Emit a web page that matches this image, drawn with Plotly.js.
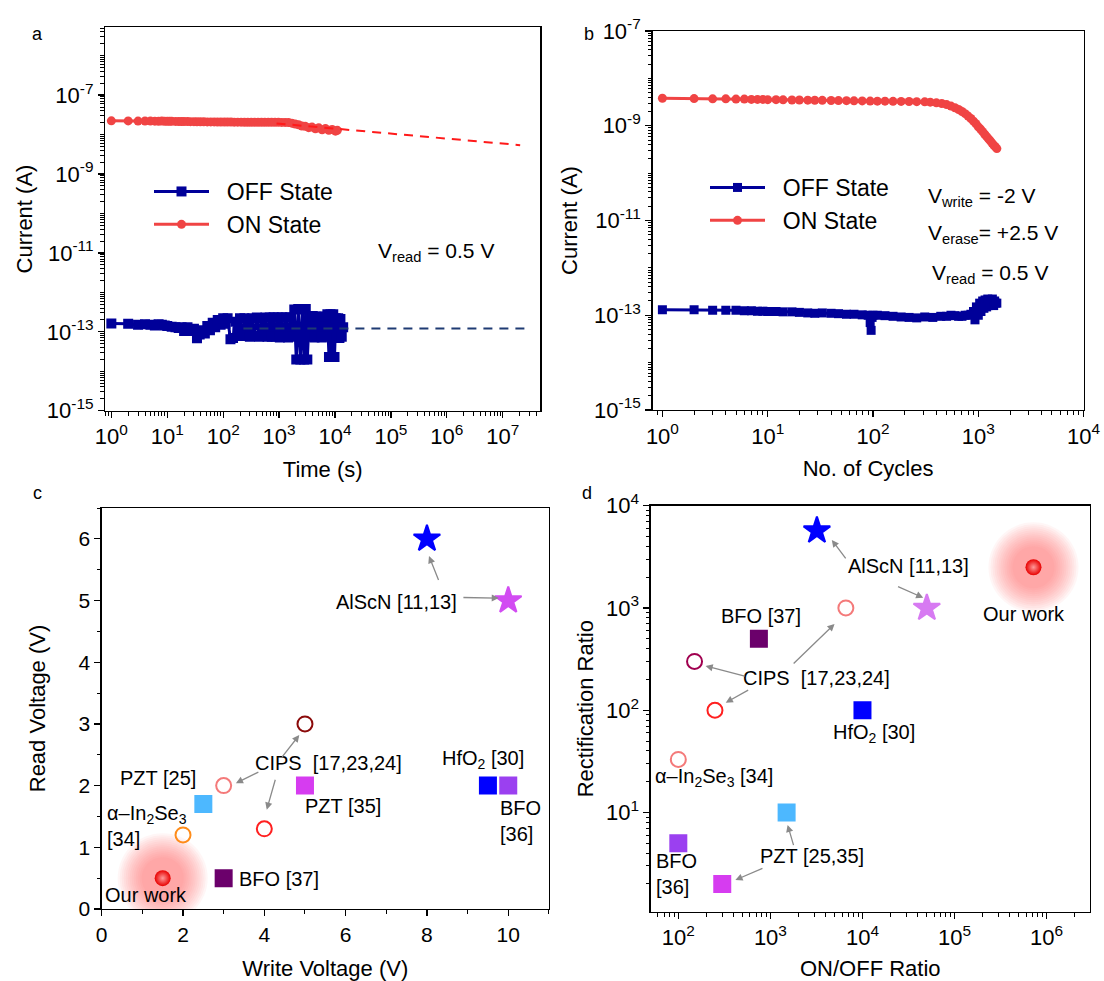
<!DOCTYPE html>
<html><head><meta charset="utf-8">
<script src="https://cdn.plot.ly/plotly-3.0.1.min.js"></script>
<style>html,body{margin:0;padding:0;background:#fff}#chart{width:1104px;height:981px}</style>
</head><body><div id="chart"></div>
<script>
// ---------------- Panel a : retention ----------------
const offTimeA = [1,2,3,4,5,6,7,8,9,10,12,14,16,18,20,23,26,30,34,38,42,47,52,58,65,72,80,90,100,110,120,135,150,165,180,200,220,240,260,280,300,330,360,400,440,480,520,570,620,680,740,800,870,950,1030,1120,1220,1330,1450,1580,1720,1870,2030,2200,2400,2600,2800,3000,3200,3450,3700,4000,4300,4600,5000,5400,5800,6300,6800,7300,7800,8300,8800,9300,9800,10300,10800,11400,12000,12500,13200,14000];
const offCurA = [1.63e-13,1.6e-13,1.5e-13,1.55e-13,1.5e-13,1.45e-13,1.55e-13,1.5e-13,1.45e-13,1.4e-13,1.35e-13,1.3e-13,1.25e-13,1.3e-13,1.05e-13,1.3e-13,1.05e-13,1.2e-13,0.69e-13,0.85e-13,1.1e-13,0.9e-13,1.4e-13,1.1e-13,1.7e-13,1.3e-13,2.0e-13,1.5e-13,2.2e-13,1.6e-13,2.2e-13,0.65e-13,0.7e-13,1.8e-13,1.0e-13,2.2e-13,0.78e-13,2.2e-13,0.8e-13,2.1e-13,0.75e-13,2.2e-13,0.8e-13,2.3e-13,0.75e-13,2.2e-13,0.8e-13,2.3e-13,0.75e-13,2.3e-13,0.75e-13,2.35e-13,0.75e-13,2.3e-13,0.72e-13,2.35e-13,0.75e-13,2.3e-13,0.72e-13,2.35e-13,0.75e-13,3.7e-13,0.2e-13,3.8e-13,0.2e-13,3.7e-13,0.2e-13,3.8e-13,0.2e-13,2.4e-13,0.75e-13,2.5e-13,0.72e-13,2.4e-13,0.75e-13,2.45e-13,0.72e-13,2.4e-13,0.75e-13,2.8e-13,0.23e-13,2.8e-13,0.23e-13,2.8e-13,0.23e-13,2.2e-13,0.7e-13,2.2e-13,0.7e-13,2.1e-13,0.75e-13,1.3e-13];
const onTimeA = [1,2,3,4,5,6,7,8,9,10,11,12,14,16,18,20,23,26,30,34,39,45,52,60,69,79,91,105,120,138,158,182,209,240,276,317,365,420,483,555,638,734,844,970,1115,1280,1470,1690,1940,2230,2560,2940,3380,3880,4460,5120,5880,6750,7750,8900,10200,11000];
const onCurA = [2.23e-8,2.22e-8,2.2e-8,2.21e-8,2.2e-8,2.19e-8,2.18e-8,2.2e-8,2.18e-8,2.18e-8,2.17e-8,2.17e-8,2.16e-8,2.15e-8,2.15e-8,2.14e-8,2.14e-8,2.13e-8,2.13e-8,2.12e-8,2.12e-8,2.11e-8,2.1e-8,2.1e-8,2.1e-8,2.09e-8,2.09e-8,2.08e-8,2.08e-8,2.08e-8,2.07e-8,2.07e-8,2.07e-8,2.06e-8,2.06e-8,2.06e-8,2.06e-8,2.05e-8,2.05e-8,2.05e-8,2.05e-8,2.05e-8,2.05e-8,2.05e-8,2.04e-8,2.04e-8,2.02e-8,1.95e-8,1.85e-8,1.78e-8,1.65e-8,1.62e-8,1.5e-8,1.55e-8,1.4e-8,1.48e-8,1.33e-8,1.42e-8,1.28e-8,1.35e-8,1.22e-8,1.28e-8];
const onFitTimeA = [900, 2.05e7];
const onFitCurA = [1.92e-8, 5.4e-9];
const offFitTimeA = [230, 2.9e7];
const offFitCurA = [1.22e-13, 1.22e-13];

// ---------------- Panel b : endurance ----------------
const onCycB = [1,2,3,4,5,6,7,8,9,10,12,14,17,20,24,28,33,40,47,56,66,79,94,110,130,155,185,220,260,310,350,400,450,500,550,600,650,700,750,800,850,900,950,1000,1050,1100,1150,1200,1250,1300,1350,1400,1450,1500];
const onCurB = [3.8e-9,3.75e-9,3.7e-9,3.7e-9,3.65e-9,3.65e-9,3.6e-9,3.6e-9,3.6e-9,3.55e-9,3.55e-9,3.52e-9,3.5e-9,3.5e-9,3.47e-9,3.45e-9,3.44e-9,3.42e-9,3.4e-9,3.38e-9,3.36e-9,3.34e-9,3.32e-9,3.3e-9,3.3e-9,3.28e-9,3.26e-9,3.25e-9,3.22e-9,3.2e-9,3.15e-9,3.05e-9,2.95e-9,2.8e-9,2.6e-9,2.4e-9,2.2e-9,2.0e-9,1.8e-9,1.6e-9,1.42e-9,1.25e-9,1.1e-9,0.95e-9,0.85e-9,0.75e-9,0.66e-9,0.59e-9,0.53e-9,0.48e-9,0.43e-9,0.39e-9,0.36e-9,0.33e-9];
const offCycB = [1,2,3,4,5,6,7,8,9,10,12,14,17,20,24,28,33,40,47,56,66,79,90,94,96,98,100,110,130,155,185,220,260,310,370,440,500,550,600,650,700,750,800,850,900,930,960,1000,1030,1060,1100,1130,1160,1200,1230,1260,1300,1330,1360,1400,1430,1460,1500];
const offCurB = [1.3e-13,1.3e-13,1.28e-13,1.28e-13,1.28e-13,1.25e-13,1.25e-13,1.22e-13,1.22e-13,1.2e-13,1.2e-13,1.18e-13,1.18e-13,1.15e-13,1.12e-13,1.1e-13,1.12e-13,1.1e-13,1.08e-13,1.05e-13,1.05e-13,1.02e-13,1.0e-13,0.7e-13,0.48e-13,0.9e-13,1.0e-13,1.0e-13,0.98e-13,0.95e-13,0.92e-13,0.9e-13,0.88e-13,0.92e-13,0.9e-13,0.95e-13,0.95e-13,1.0e-13,0.98e-13,0.95e-13,0.95e-13,1.0e-13,1.0e-13,1.05e-13,1.2e-13,0.8e-13,1.5e-13,1.0e-13,1.8e-13,1.2e-13,2.0e-13,1.4e-13,2.1e-13,1.5e-13,2.2e-13,1.6e-13,2.1e-13,1.7e-13,2.2e-13,1.6e-13,2.0e-13,1.8e-13,1.8e-13];

// ---------------- Panel c : write vs read voltage ----------------
const cLabels  = ['AlScN [11]','AlScN [13]','CIPS [17]','CIPS [23]','CIPS [24]','α-In2Se3 [34]','PZT [25]','PZT [35]','HfO2 [30]','BFO [36]','BFO [37]'];
const cWriteV  = [8, 10, 5, 3, 4, 2, 2.5, 5, 9.5, 10, 3];
const cReadV   = [6, 5, 3, 2, 1.3, 1.2, 1.7, 2, 2, 2, 0.5];
const ourWriteV = [1.5];
const ourReadV  = [0.5];

// ---------------- Panel d : ON/OFF vs rectification ----------------
const dLabels  = ['AlScN [11]','AlScN [13]','CIPS [17]','CIPS [23]','CIPS [24]','α-In2Se3 [34]','PZT [25]','PZT [35]','HfO2 [30]','BFO [36]','BFO [37]'];
const dOnOff   = [3200, 50000, 150, 6600, 250, 100, 1500, 300, 10000, 100, 750];
const dRect    = [5700, 1000, 300, 1000, 100, 33, 10, 2, 100, 5, 500];
const ourOnOff = [7.2e5];
const ourRect  = [2500];

// ---------------- tick labels ----------------
const aXTickVals = [1,10,100,1e3,1e4,1e5,1e6,1e7];
const aXTickText = ['10<sup>0</sup>','10<sup>1</sup>','10<sup>2</sup>','10<sup>3</sup>','10<sup>4</sup>','10<sup>5</sup>','10<sup>6</sup>','10<sup>7</sup>'];
const abYTickVals = [1e-15,1e-13,1e-11,1e-9,1e-7];
const abYTickText = ['10<sup>-15</sup>','10<sup>-13</sup>','10<sup>-11</sup>','10<sup>-9</sup>','10<sup>-7</sup>'];
const bXTickVals = [1,10,100,1e3,1e4];
const bXTickText = ['10<sup>0</sup>','10<sup>1</sup>','10<sup>2</sup>','10<sup>3</sup>','10<sup>4</sup>'];
const cXTickVals = [0,2,4,6,8,10];
const cXTickText = ['0','2','4','6','8','10'];
const cYTickVals = [0,1,2,3,4,5,6];
const cYTickText = ['0','1','2','3','4','5','6'];
const dXTickVals = [100,1e3,1e4,1e5,1e6];
const dXTickText = ['10<sup>2</sup>','10<sup>3</sup>','10<sup>4</sup>','10<sup>5</sup>','10<sup>6</sup>'];
const dYTickVals = [10,100,1e3,1e4];
const dYTickText = ['10<sup>1</sup>','10<sup>2</sup>','10<sup>3</sup>','10<sup>4</sup>'];

// ---------------- helpers ----------------
const W = 1104, H = 981;
const px = v => v / W, py = v => 1 - v / H;
function logMinor(e0, e1) {
  const out = [];
  for (let e = e0; e <= e1; e++) for (let m = 2; m <= 9; m++) out.push(m * Math.pow(10, e));
  return out;
}
function oddDecadeMinor(e0, e1) { // minor ticks plus the unlabeled decades
  const out = logMinor(e0, e1);
  for (let e = e0; e <= e1; e++) if (Math.abs(e % 2) !== 1) out.push(Math.pow(10, e));
  return out;
}
function linMinor(a, b, s) { const out = []; for (let v = a; v <= b + 1e-9; v += s) out.push(+v.toFixed(6)); return out; }
const FONT = 'Liberation Sans, Arial, sans-serif';
function axis(o, fs) {
  return Object.assign({
    showline: true, linecolor: '#000', linewidth: 1.3, mirror: true,
    showgrid: false, zeroline: false, ticks: 'outside', ticklen: 6, tickwidth: 1.3, tickcolor: '#000',
    tickmode: 'array', tickfont: {family: FONT, size: fs || 22, color: '#000'}, automargin: false
  }, o);
}
const minorOf = vals => ({tickmode: 'array', tickvals: vals, ticks: 'outside', ticklen: 3.5, tickwidth: 1, tickcolor: '#000'});

const NAVY = '#000099', RED = '#f04444';
const traces = [
  // panel a
  {x: offTimeA, y: offCurA, xaxis: 'x', yaxis: 'y', name: '\u00a0\u00a0OFF State', mode: 'lines+markers', legend: 'legend',
   line: {color: NAVY, width: 3}, marker: {symbol: 'square', size: 10, color: NAVY}},
  {x: onTimeA, y: onCurA, xaxis: 'x', yaxis: 'y', name: '\u00a0\u00a0ON State', mode: 'lines+markers', legend: 'legend',
   line: {color: RED, width: 3}, marker: {symbol: 'circle', size: 9, color: RED}},
  {x: onFitTimeA, y: onFitCurA, xaxis: 'x', yaxis: 'y', mode: 'lines', showlegend: false,
   line: {color: '#ff1a1a', width: 2, dash: '9px,7px'}},
  {x: offFitTimeA, y: offFitCurA, xaxis: 'x', yaxis: 'y', mode: 'lines', showlegend: false,
   line: {color: '#1f3b73', width: 2, dash: '9px,7px'}},
  // panel b
  {x: offCycB, y: offCurB, xaxis: 'x2', yaxis: 'y2', name: '\u00a0\u00a0OFF State', mode: 'lines+markers', legend: 'legend2',
   line: {color: NAVY, width: 3}, marker: {symbol: 'square', size: 9, color: NAVY}},
  {x: onCycB, y: onCurB, xaxis: 'x2', yaxis: 'y2', name: '\u00a0\u00a0ON State', mode: 'lines+markers', legend: 'legend2',
   line: {color: RED, width: 3}, marker: {symbol: 'circle', size: 9, color: RED}},
];

// "Our work" glow: many stacked faint discs give a soft pink halo
const glowSizes = [];
for (let s = 90; s >= 42; s -= 4) glowSizes.push(s);
[['x3','y3',ourWriteV,ourReadV],['x4','y4',ourOnOff,ourRect]].forEach(([xa,ya,xs,ys]) => {
  glowSizes.forEach(s => traces.push({x: xs, y: ys, xaxis: xa, yaxis: ya, mode: 'markers', showlegend: false, hoverinfo: 'skip',
    marker: {size: s, opacity: 1, color: 'rgba(255,105,105,0.06)', line: {width: 0}}}));
});

// style per point (c and d share order of labels)
const cSym   = ['star','star','circle-open','circle-open','circle-open','circle-open','square','square','square','square','square'];
const cCol   = ['#0000ff','#d24cf2','#8b0a0a','#f47a7a','#ff2020','#ff8c1a','#4db8ff','#d63cf0','#0000ff','#9b40f0','#6b006b'];
const dCol   = ['#0000ff','#d77af2','#a0004f','#f47a7a','#ff2020','#f47a7a','#4db8ff','#d63cf0','#0000ff','#9b40f0','#6b006b'];
const cSize  = [20,20,15,15,15,15,16,16,16,16,16];
traces.push({x: cWriteV, y: cReadV, xaxis: 'x3', yaxis: 'y3', mode: 'markers', showlegend: false, name: 'literature',
  marker: {symbol: cSym, size: cSize, opacity: 1, color: cCol, line: {color: cCol, width: 2}}});
traces.push({x: dOnOff, y: dRect, xaxis: 'x4', yaxis: 'y4', mode: 'markers', showlegend: false, name: 'literature',
  marker: {symbol: cSym, size: cSize, opacity: 1, color: dCol, line: {color: dCol, width: 2}}});
[['x3','y3',ourWriteV,ourReadV],['x4','y4',ourOnOff,ourRect]].forEach(([xa,ya,xs,ys]) => {
  traces.push({x: xs, y: ys, xaxis: xa, yaxis: ya, mode: 'markers', showlegend: false, name: 'Our work',
    marker: {size: 16, opacity: 1, color: '#e80000', gradient: {type: 'radial', color: '#ff9a9a'}, line: {width: 0}}});
});

const ann = [];
const txt = (x, y, text, o) => ann.push(Object.assign({x, y, text, showarrow: false, font: {family: FONT, size: 20, color: '#000'}}, o));
// panel labels
const pl = {xref: 'paper', yref: 'paper', font: {family: FONT, size: 18, color: '#000'}};
txt(px(30), py(22), 'a', pl);
txt(px(589), py(22), 'b', pl);
txt(px(31), py(493), 'c', pl);
txt(px(587), py(493), 'd', pl);
// voltage notes
const vn = {xref: 'paper', yref: 'paper', xanchor: 'left', font: {family: FONT, size: 21, color: '#000'}};
txt(px(376), py(237), 'V<sub>read</sub> = 0.5 V', vn);
txt(px(926), py(182), 'V<sub>write</sub> = -2 V', vn);
txt(px(926), py(219), 'V<sub>erase</sub>= +2.5 V', vn);
txt(px(930), py(259), 'V<sub>read</sub> = 0.5 V', vn);

// panel c labels
const c = {xref: 'x3', yref: 'y3'};
txt(7.26, 4.98, 'AlScN [11,13]', c);
txt(5.59, 2.36, 'CIPS  [17,23,24]', c);
txt(1.38, 2.13, 'PZT [25]', c);
txt(5.94, 1.67, 'PZT [35]', c);
txt(9.38, 2.42, 'HfO<sub>2</sub> [30]', c);
txt(9.75, 1.42, 'BFO<br>[36]', Object.assign({xanchor: 'left', align: 'left'}, c));
txt(0.086, 1.34, 'α–In<sub>2</sub>Se<sub>3</sub><br>[34]', Object.assign({xanchor: 'left', align: 'left'}, c));
txt(1.10, 0.23, 'Our work', c);
txt(4.35, 0.49, 'BFO [37]', c);
// panel d labels (log coordinates)
const d = {xref: 'x4', yref: 'y4'};
txt(4.50, 3.41, 'AlScN [11,13]', d);
txt(5.75, 2.94, 'Our work', d);
txt(2.90, 2.925, 'BFO [37]', d);
txt(3.50, 2.32, 'CIPS  [17,23,24]', d);
txt(4.12, 1.775, 'HfO<sub>2</sub> [30]', d);
txt(2.39, 1.34, 'α–In<sub>2</sub>Se<sub>3</sub> [34]', d);
txt(3.45, 0.57, 'PZT [25,35]', d);
txt(1.74, 0.40, 'BFO<br>[36]', Object.assign({xanchor: 'left', align: 'left'}, d));

// arrows
const arr = (x, y, ax, ay, xr, yr) => ann.push({x, y, ax, ay, xref: xr, yref: yr, axref: xr, ayref: yr, text: '', showarrow: true,
  arrowhead: 2, arrowsize: 1.1, arrowwidth: 1.3, arrowcolor: '#8a8a8a', standoff: 0, startstandoff: 0});
arr(8.05, 5.72, 8.30, 5.31, 'x3', 'y3');
arr(9.77, 5.04, 8.86, 5.05, 'x3', 'y3');
arr(3.30, 2.04, 3.89, 2.23, 'x3', 'y3');
arr(4.86, 2.82, 4.41, 2.44, 'x3', 'y3');
arr(4.06, 1.61, 4.28, 2.12, 'x3', 'y3');
arr(3.667, 3.665, 3.83, 3.47, 'x4', 'y4');
arr(4.66, 3.10, 4.37, 3.215, 'x4', 'y4');
arr(2.296, 2.433, 2.737, 2.33, 'x4', 'y4');
arr(2.515, 2.074, 2.775, 2.205, 'x4', 'y4');
arr(3.697, 2.844, 3.236, 2.443, 'x4', 'y4');
arr(3.187, 0.879, 3.256, 0.667, 'x4', 'y4');
arr(2.62, 0.34, 2.93, 0.46, 'x4', 'y4');

const tfont = {family: FONT, size: 22, color: '#000'};
const layout = {
  width: W, height: H, margin: {l: 0, r: 0, t: 0, b: 0}, paper_bgcolor: '#fff', plot_bgcolor: '#fff',
  font: {family: FONT, color: '#000'}, hovermode: false,
  xaxis: axis({type: 'log', range: [-0.11, 7.67], domain: [px(105.2), px(540.2)], anchor: 'y',
    tickvals: aXTickVals, ticktext: aXTickText, minor: minorOf(logMinor(-1, 7)),
    title: {text: 'Time (s)', font: tfont, standoff: 13}}),
  yaxis: axis({type: 'log', range: [-15, -5.28], domain: [py(410.7), py(27.3)], anchor: 'x',
    tickvals: abYTickVals, ticktext: abYTickText, minor: minorOf(oddDecadeMinor(-16, -5)),
    title: {text: 'Current (A)', font: tfont, standoff: 8}}),
  xaxis2: axis({type: 'log', range: [-0.094, 4], domain: [px(652.5), px(1083.6)], anchor: 'y2',
    tickvals: bXTickVals, ticktext: bXTickText, minor: minorOf(logMinor(-1, 3)),
    title: {text: 'No. of Cycles', font: tfont, standoff: 13}}),
  yaxis2: axis({type: 'log', range: [-15, -7], domain: [py(410), py(31)], anchor: 'x2',
    tickvals: abYTickVals, ticktext: abYTickText, minor: minorOf(oddDecadeMinor(-16, -7)),
    title: {text: 'Current (A)', font: tfont, standoff: 10}}),
  xaxis3: axis({range: [0, 11], domain: [px(101.7), px(548.9)], anchor: 'y3',
    tickvals: cXTickVals, ticktext: cXTickText, minor: minorOf(linMinor(1, 11, 2)),
    title: {text: 'Write Voltage (V)', font: tfont, standoff: 16}}, 21),
  yaxis3: axis({range: [0, 6.5], domain: [py(909), py(508)], anchor: 'x3',
    tickvals: cYTickVals, ticktext: cYTickText, minor: minorOf(linMinor(0.5, 6.5, 1)),
    title: {text: 'Read Voltage (V)', font: tfont, standoff: 26}}, 21),
  xaxis4: axis({type: 'log', range: [1.70, 6.47], domain: [px(650.7), px(1089.9)], anchor: 'y4',
    tickvals: dXTickVals, ticktext: dXTickText, minor: minorOf(logMinor(1, 6)),
    title: {text: 'ON/OFF Ratio', font: tfont, standoff: 12}}),
  yaxis4: axis({type: 'log', range: [0.03, 4], domain: [py(911.7), py(505.7)], anchor: 'x4',
    tickvals: dYTickVals, ticktext: dYTickText, minor: minorOf(logMinor(0, 3)),
    title: {text: 'Rectification Ratio', font: tfont, standoff: 6}}),
  legend: {x: px(149), y: py(170), xanchor: 'left', yanchor: 'top', bgcolor: 'rgba(0,0,0,0)', font: {family: FONT, size: 23, color: '#000'}, itemwidth: 55, tracegroupgap: 0},
  legend2: {x: px(705), y: py(166), xanchor: 'left', yanchor: 'top', bgcolor: 'rgba(0,0,0,0)', font: {family: FONT, size: 23, color: '#000'}, itemwidth: 55, tracegroupgap: 0},
  annotations: ann
};
Plotly.newPlot('chart', traces, layout, {displayModeBar: false, staticPlot: true});
</script></body></html>
